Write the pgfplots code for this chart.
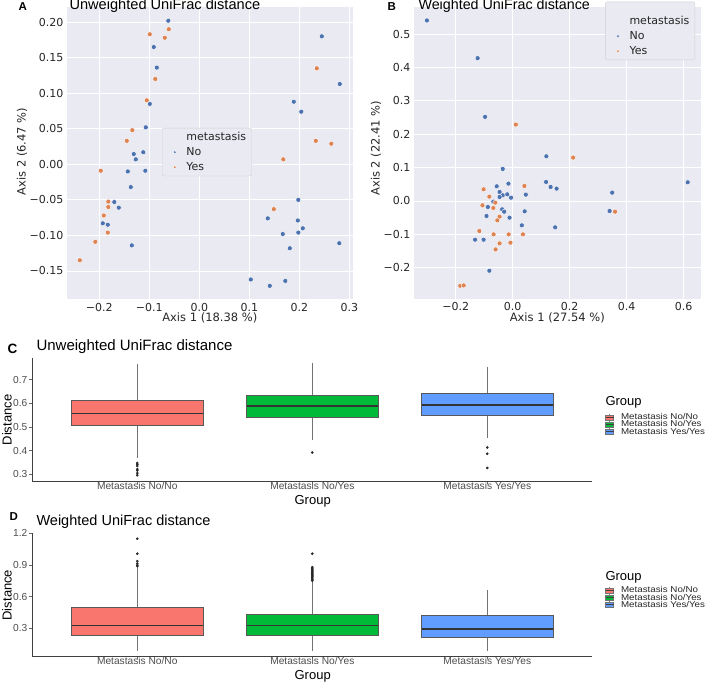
\documentclass[border=0pt]{standalone}
\usepackage{fontspec}
\setmainfont{Liberation Sans}
\newfontfamily\dejavu{DejaVu Sans}
\usepackage{graphicx}
\usepackage{pgfplots}
\pgfplotsset{compat=1.18}
\usepgfplotslibrary{statistics}
\definecolor{sbBlue}{HTML}{4C72B0}
\definecolor{sbOrange}{HTML}{DD8452}
\definecolor{sbBg}{HTML}{EAEAF2}
\definecolor{sbText}{HTML}{262626}
\definecolor{ggRed}{HTML}{F8766D}
\definecolor{ggGreen}{HTML}{00BA38}
\definecolor{ggBlue}{HTML}{619CFF}
\definecolor{ggGrey}{HTML}{4D4D4D}
\newcommand{\lstrut}{\rule[-2pt]{0pt}{10pt}}

\pgfplotstableread{
x y
-0.062 0.202
-0.091 0.165
-0.085 0.136
-0.099 0.085
-0.107 0.052
-0.112 0.017
-0.131 0.0145
-0.127 0.007
-0.143 -0.010
-0.108 -0.009
-0.137 -0.032
-0.170 -0.053
-0.161 -0.061
-0.193 -0.083
-0.183 -0.085
-0.135 -0.114
0.245 0.180
0.281 0.113
0.189 0.088
0.204 0.074
0.198 -0.050
0.137 -0.076
0.197 -0.079
0.207 -0.090
0.198 -0.096
0.167 -0.098
0.181 -0.118
0.280 -0.111
0.103 -0.162
0.141 -0.171
0.172 -0.164
}\uwNo
\pgfplotstableread{
x y
-0.099 0.183
-0.061 0.190
-0.069 0.178
-0.088 0.120
-0.105 0.090
-0.134 0.048
-0.145 0.033
-0.197 -0.009
-0.182 -0.0525
-0.182 -0.060
-0.191 -0.072
-0.183 -0.096
-0.208 -0.109
-0.239 -0.135
0.235 0.135
0.233 0.033
0.264 0.029
0.168 0.007
0.149 -0.063
}\uwYes
\pgfplotstableread{
x y
-0.301 0.541
-0.123 0.428
-0.097 0.252
-0.035 0.096
0.118 0.134
0.117 0.057
0.133 0.042
0.154 0.037
0.614 0.056
0.349 0.025
0.340 -0.030
0.149 -0.079
-0.056 0.044
-0.015 0.052
-0.046 0.027
-0.035 0.017
-0.046 0.012
-0.019 0.020
-0.006 0.010
0.046 0.019
-0.068 -0.002
-0.087 -0.018
-0.037 -0.025
-0.030 -0.032
-0.092 -0.045
-0.011 -0.050
0.042 -0.031
0.032 -0.073
-0.132 -0.116
-0.102 -0.116
-0.082 -0.209
}\wNo
\pgfplotstableread{
x y
0.011 0.229
0.212 0.130
0.041 0.045
-0.102 0.035
-0.082 0.013
-0.106 -0.013
-0.061 -0.005
-0.068 -0.021
-0.046 -0.047
-0.054 -0.058
-0.117 -0.090
-0.067 -0.100
-0.014 -0.100
0.036 -0.100
-0.046 -0.127
-0.008 -0.125
-0.060 -0.145
0.359 -0.032
-0.184 -0.254
-0.172 -0.253
}\wYes

\pgfplotsset{
  sbaxis/.style={
    scale only axis,
    axis background/.style={fill=sbBg},
    axis line style={draw=none},
    xmajorgrids, ymajorgrids,
    grid style={white, line width=0.9pt},
    major tick length=0pt,
    tick label style={font=\dejavu\fontsize{11}{13}\selectfont, text=sbText},
    label style={font=\dejavu\fontsize{11.5}{13}\selectfont, text=sbText},
    legend cell align=left,
    legend style={fill=sbBg, draw=black!18, rounded corners=2pt,
      font=\dejavu\fontsize{11}{13}\selectfont, text=sbText,
      inner xsep=4pt, inner ysep=2.5pt,
      nodes={inner sep=1.5pt},
      row sep=2.5pt, column sep=8.5pt},
    legend image post style={mark size=1.6pt},
  },
  sbNo/.style={only marks, mark=*, mark size=2.5pt, mark options={fill=sbBlue, draw=white, line width=0.4pt}},
  sbYes/.style={only marks, mark=*, mark size=2.5pt, mark options={fill=sbOrange, draw=white, line width=0.4pt}},
  ggaxis/.style={
    scale only axis, width=560pt, height=123pt,
    xmin=0.4, xmax=3.6,
    axis x line*=bottom, axis y line*=left,
    axis line style={black!75, line width=0.8pt},
    xtick={1,2,3},
    xticklabels={Metastasis No/No, Metastasis No/Yes, Metastasis Yes/Yes},
    tick style={black!60, line width=0.6pt},
    major tick length=3pt, tick align=outside,
    tick label style={font=\fontsize{10.2}{11}\selectfont, text=ggGrey},
    xticklabel style={yshift=3pt, inner sep=1pt},
    yticklabel style={xshift=1.5pt},
    label style={font=\fontsize{13}{15}\selectfont, text=black},
    boxplot/draw direction=y,
    boxplot/every box/.style={draw=black!65, line width=0.6pt},
    boxplot/every median/.style={draw=black!80, line width=1.5pt},
    boxplot/every whisker/.style={draw=black!55, line width=0.6pt},
    legend cell align=left,
    legend style={draw=none, fill=none, inner sep=0pt,
      font=\fontsize{8.5}{9}\selectfont, text=black!85,
      nodes={inner sep=0.5pt, text height=5.2pt, text depth=0.4pt},
      row sep=0pt, column sep=6.5pt},
  },
  ggbox/.style={mark=*, mark size=1.1pt, mark options={fill=black!85, draw=black!85}, solid, fill=#1, draw=black!65},
  ggkey/.style={legend image code/.code={
      \path (0pt,0pt) -- (8pt,0pt);
      \draw[black!50, line width=0.4pt] (4pt,2.5pt)--(4pt,3.4pt) (4pt,-2.5pt)--(4pt,-3.4pt);
      \draw[fill=#1, draw=black!55, line width=0.5pt] (0pt,-2.5pt) rectangle (8pt,2.5pt);
      \draw[black!75, line width=0.8pt] (0pt,0pt)--(8pt,0pt);}},
}

\begin{document}
\begin{tikzpicture}
\useasboundingbox (0pt,0pt) rectangle (708pt,683pt);

% ---------- Panel A ----------
\begin{axis}[sbaxis, at={(66.8pt,383.6pt)}, anchor=south west,
  width=286pt, height=292.2pt,
  xmin=-0.265, xmax=0.307, ymin=-0.190, ymax=0.221,
  xtick={-0.2,-0.1,0,0.1,0.2,0.3},
  xticklabels={−0.2,−0.1,0.0,0.1,0.2,0.3},
  ytick={-0.15,-0.1,-0.05,0,0.05,0.1,0.15,0.2},
  yticklabels={−0.15,−0.10,−0.05,0.00,0.05,0.10,0.15,0.20},
  xlabel={Axis 1 (18.38 \%)}, ylabel={Axis 2 (6.47 \%)},
  xlabel style={at={(axis description cs:0.5,-0.077)}, anchor=base},
  ylabel style={at={(axis description cs:-0.157,0.506)}, anchor=center},
  legend style={at={(0.333,0.587)}, anchor=north west},
]
\addlegendimage{empty legend}
\addlegendentry{\lstrut metastasis}
\addplot[sbNo] table {\uwNo};
\addlegendentry{\lstrut No}
\addplot[sbYes] table {\uwYes};
\addlegendentry{\lstrut Yes}
\end{axis}

% ---------- Panel B ----------
\begin{axis}[sbaxis, at={(413.8pt,383.9pt)}, anchor=south west,
  width=287pt, height=292pt,
  xmin=-0.347, xmax=0.660, ymin=-0.294, ymax=0.581,
  xtick={-0.2,0,0.2,0.4,0.6},
  xticklabels={−0.2,0.0,0.2,0.4,0.6},
  ytick={-0.2,-0.1,0,0.1,0.2,0.3,0.4,0.5},
  yticklabels={−0.2,−0.1,0.0,0.1,0.2,0.3,0.4,0.5},
  xlabel={Axis 1 (27.54 \%)}, ylabel={Axis 2 (22.41 \%)},
  xlabel style={at={(axis description cs:0.5,-0.077)}, anchor=base},
  ylabel style={at={(axis description cs:-0.132,0.517)}, anchor=center},
  legend style={at={(0.980,1.0185)}, anchor=north east},
]
\addlegendimage{empty legend}
\addlegendentry{\rule[-2pt]{0pt}{20.5pt}metastasis}
\addplot[sbNo] table {\wNo};
\addlegendentry{\lstrut No}
\addplot[sbYes] table {\wYes};
\addlegendentry{\lstrut Yes}
\end{axis}

% ---------- Panel C ----------
\begin{axis}[ggaxis, at={(32.3pt,201.8pt)}, anchor=south west,
  ymin=0.271, ymax=0.79,
  ytick={0.3,0.4,0.5,0.6,0.7}, yticklabels={0.3,0.4,0.5,0.6,0.7},
  xlabel={Group}, ylabel={Distance},
  xlabel style={at={(axis description cs:0.5007,-0.192)}, anchor=base},
  ylabel style={at={(axis description cs:-0.045,0.4976)}, anchor=center},
  legend style={at={(1.0227,0.550)}, anchor=north west},
]
\addlegendimage{ggkey=ggRed}
\addlegendimage{ggkey=ggGreen}
\addlegendimage{ggkey=ggBlue}
\legend{\scalebox{1.15}[1]{Metastasis No/No},\scalebox{1.15}[1]{Metastasis No/Yes},\scalebox{1.15}[1]{Metastasis Yes/Yes}}
\addplot[ggbox=ggRed, boxplot prepared={lower whisker=0.368, lower quartile=0.508, median=0.557, upper quartile=0.6135, upper whisker=0.765, draw position=1, box extend=0.75, whisker extend=0}]
  table[row sep=\\, y index=0] {data\\0.348\\0.342\\0.335\\0.322\\0.316\\0.305\\0.296\\};
\addplot[ggbox=ggGreen, boxplot prepared={lower whisker=0.445, lower quartile=0.539, median=0.588, upper quartile=0.632, upper whisker=0.768, draw position=2, box extend=0.75, whisker extend=0}]
  table[row sep=\\, y index=0] {data\\0.392\\};
\addplot[ggbox=ggBlue, boxplot prepared={lower whisker=0.452, lower quartile=0.551, median=0.592, upper quartile=0.643, upper whisker=0.751, draw position=3, box extend=0.75, whisker extend=0}]
  table[row sep=\\, y index=0] {data\\0.413\\0.387\\0.327\\};
\end{axis}

% ---------- Panel D ----------
\begin{axis}[ggaxis, at={(32.3pt,26.9pt)}, anchor=south west,
  ymin=0.037, ymax=1.203,
  ytick={0.3,0.6,0.9,1.2}, yticklabels={0.3,0.6,0.9,1.2},
  xlabel={Group}, ylabel={Distance},
  xlabel style={at={(axis description cs:0.5007,-0.187)}, anchor=base},
  ylabel style={at={(axis description cs:-0.045,0.496)}, anchor=center},
  legend style={at={(1.0227,0.565)}, anchor=north west},
]
\addlegendimage{ggkey=ggRed}
\addlegendimage{ggkey=ggGreen}
\addlegendimage{ggkey=ggBlue}
\legend{\scalebox{1.15}[1]{Metastasis No/No},\scalebox{1.15}[1]{Metastasis No/Yes},\scalebox{1.15}[1]{Metastasis Yes/Yes}}
\addplot[ggbox=ggRed, boxplot prepared={lower whisker=0.088, lower quartile=0.234, median=0.325, upper quartile=0.499, upper whisker=0.883, draw position=1, box extend=0.75, whisker extend=0}]
  table[row sep=\\, y index=0] {data\\1.150\\1.008\\0.937\\0.915\\0.899\\0.890\\};
\addplot[ggbox=ggGreen, boxplot prepared={lower whisker=0.088, lower quartile=0.230, median=0.325, upper quartile=0.438, upper whisker=0.748, draw position=2, box extend=0.75, whisker extend=0}]
  table[row sep=\\, y index=0] {data\\1.008\\0.880\\0.870\\0.860\\0.850\\0.840\\0.830\\0.820\\0.810\\0.800\\0.790\\0.780\\0.770\\0.760\\0.752\\};
\addplot[ggbox=ggBlue, boxplot prepared={lower whisker=0.088, lower quartile=0.215, median=0.293, upper quartile=0.423, upper whisker=0.660, draw position=3, box extend=0.75, whisker extend=0}]
  table[row sep=\\, y index=0] {data\\};
\end{axis}

% ---------- Titles, panel letters, legend titles ----------
\node[anchor=base west, font=\bfseries\fontsize{11.5}{12}\selectfont] at (15pt,672pt) {A};
\node[anchor=base west, font=\fontsize{14.6}{16}\selectfont] at (66pt,673pt) {Unweighted UniFrac distance};
\node[anchor=base west, font=\bfseries\fontsize{11.5}{12}\selectfont] at (384pt,672pt) {B};
\node[anchor=base west, font=\fontsize{14.3}{16}\selectfont] at (415pt,673pt) {Weighted UniFrac distance};
\node[anchor=base west, font=\bfseries\fontsize{13.5}{14}\selectfont] at (4pt,330pt) {C};
\node[anchor=base west, font=\fontsize{15}{17}\selectfont] at (33pt,332pt) {Unweighted UniFrac distance};
\node[anchor=base west, font=\bfseries\fontsize{11.5}{12}\selectfont] at (6pt,163pt) {D};
\node[anchor=base west, font=\fontsize{14.5}{17}\selectfont] at (33pt,157.3pt) {Weighted UniFrac distance};
\node[anchor=base west, font=\fontsize{13}{15}\selectfont] at (602pt,278pt) {Group};
\node[anchor=base west, font=\fontsize{13}{15}\selectfont] at (602pt,103pt) {Group};
\end{tikzpicture}
\end{document}
